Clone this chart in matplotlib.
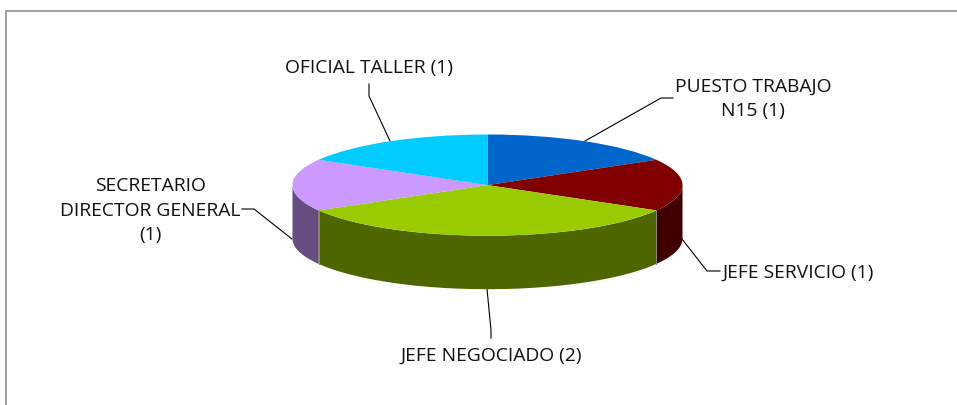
import numpy as np
import matplotlib
matplotlib.use('Agg')
import matplotlib.pyplot as plt

W, H = 957, 405

# chart data
names = ['PUESTO TRABAJO\nN15 (1)', 'JEFE SERVICIO (1)', 'JEFE NEGOCIADO (2)',
         'SECRETARIO\nDIRECTOR GENERAL\n(1)', 'OFICIAL TALLER (1)']
values = [1, 1, 2, 1, 1]
top_colors = ['#0066CC', '#800000', '#99CC00', '#CC99FF', '#00CCFF']
side_colors = ['#003366', '#400000', '#4D6600', '#664E80', '#006680']

# label centres and leader lines, in pixels from the top left
label_xy = [(753, 98.5), (798, 272.5), (491, 355.5), (150, 210.5), (369, 67.5)]
leaders = [[(673, 98), (661, 98), (585, 141)],
           [(720, 271), (707, 271), (682, 239)],
           [(491, 338), (491, 330), (487, 289)],
           [(242, 209), (254, 209), (292, 239)],
           [(369, 84), (369, 96), (390, 141)]]

fig = plt.figure(figsize=(W / 100, H / 100), dpi=100, facecolor='white')

# background layer in pixel coords, frame + labels + leaders
bg = fig.add_axes([0, 0, 1, 1])
bg.set_xlim(0, W)
bg.set_ylim(H, 0)
bg.axis('off')
bg.plot([6, 6, W], [H, 10.5, 10.5], color='#868686', lw=1.1, solid_capstyle='butt')

for (x, y), name, pts in zip(label_xy, names, leaders):
    bg.text(x, y, name, ha='center', va='center', fontsize=13.9, family='Open Sans',
            color='#111111', linespacing=1.43)
    bg.plot([p[0] for p in pts], [p[1] for p in pts], color='black', lw=0.8)

# pie axes, stretched so the circle turns into an ellipse
left, right = 292.5, 682.5
top, mid_bottom = 134.5, 235.7
depth = 53.5
ry = (mid_bottom - top) / 2
ax = fig.add_axes([left / W, 1 - (mid_bottom + depth) / H,
                   (right - left) / W, (mid_bottom - top + depth) / H])
d = depth / ry

shares = np.array(values) / sum(values)
edges = np.cumsum(np.r_[0, shares]) * 2 * np.pi  # clockwise from the top

# side walls first, only the part facing us
for i, c in enumerate(side_colors):
    a0 = max(edges[i], np.pi / 2)
    a1 = min(edges[i + 1], 3 * np.pi / 2)
    if a1 <= a0:
        continue
    t = np.linspace(a0, a1, 100)
    x = np.sin(t)
    y = np.cos(t)
    ax.fill(np.r_[x, x[::-1]], np.r_[y, y[::-1] - d], color=c, lw=0, zorder=1)
    for e in (edges[i], edges[i + 1]):
        if a0 <= e <= a1 and np.pi / 2 < e < 3 * np.pi / 2:
            ax.plot([np.sin(e)] * 2, [np.cos(e), np.cos(e) - d], color='#8a8a7a', lw=0.7, zorder=2)

ax.pie(values, colors=top_colors, startangle=90, counterclock=False, radius=1,
       wedgeprops={'linewidth': 0, 'zorder': 3})
ax.set_aspect('auto')
ax.set_xlim(-1, 1)
ax.set_ylim(-1 - d, 1)
ax.axis('off')
for a in ax.get_children():
    a.set_clip_on(False)

fig.savefig('out.png', dpi=100)
